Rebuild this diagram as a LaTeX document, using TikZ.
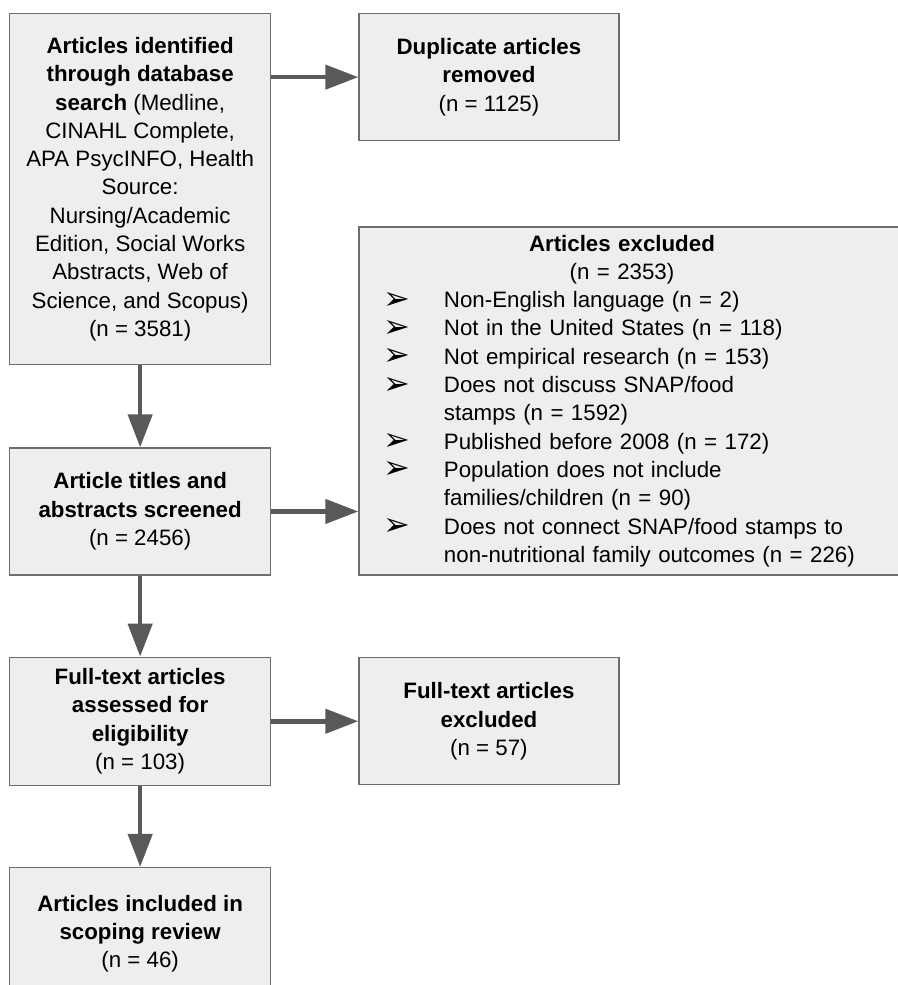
\documentclass[tikz,border=0pt]{standalone}
\usepackage{fontspec}
\setmainfont{Liberation Sans}
\newfontfamily\symfont{DejaVu Sans}
\usetikzlibrary{arrows.meta,positioning}

\definecolor{boxfill}{RGB}{238,238,238}
\definecolor{boxline}{RGB}{110,110,110}
\definecolor{arrowgray}{RGB}{89,89,89}

\newcommand{\exitem}{\makebox[60pt][l]{\raisebox{-1.5pt}{\symfont\fontsize{32}{28.3}\selectfont\char"27A2}}}
\newcommand{\excont}{\hspace*{60pt}}

\begin{document}
\begin{tikzpicture}[->,>={Triangle[length=33pt,width=24pt]},x=1pt,y=1pt,
  every edge/.style={draw=arrowgray,line width=4.5pt},
  box/.style={rectangle,draw=boxline,fill=boxfill,line width=1.3pt,align=center,
    inner sep=0pt,minimum width=261pt,font=\fontsize{22.3}{28.3}\selectfont}]

\useasboundingbox (0,0) rectangle (897,-985);

\node[box, anchor=north west, minimum height=351pt] (A) at (9,-13)
  {\textbf{Articles identified}\\ \textbf{through database}\\ \textbf{search} (Medline,\\
   CINAHL Complete,\\ APA PsycINFO, Health\\ Source:\\ Nursing/Academic\\
   Edition, Social Works\\ Abstracts, Web of\\ Science, and Scopus)\\ (n = 3581)};
\node[box, minimum width=260pt, minimum height=127pt] (D) [right=87pt of A.north east, anchor=north west]
  {\textbf{Duplicate articles}\\ \textbf{removed}\\ (n = 1125)};
\node[box, align=left, text width=526pt, inner xsep=25pt, minimum height=348pt] (E) [below=85pt of D.south west, anchor=north west]
  {\makebox[476pt]{\textbf{Articles excluded}}\\
   \makebox[476pt]{(n = 2353)}\\
   \exitem Non-English language (n = 2)\\
   \exitem Not in the United States (n = 118)\\
   \exitem Not empirical research (n = 153)\\
   \exitem Does not discuss SNAP/food\\
   \excont stamps (n = 1592)\\
   \exitem Published before 2008 (n = 172)\\
   \exitem Population does not include\\
   \excont families/children (n = 90)\\
   \exitem Does not connect SNAP/food stamps to\\
   \excont non-nutritional family outcomes (n = 226)};

\node[box, minimum height=127pt] (S) [below=82pt of A]
  {\textbf{Article titles and}\\ \textbf{abstracts screened}\\ (n = 2456)};
\node[box, minimum height=128pt] (F) [below=81pt of S]
  {\textbf{Full-text articles}\\ \textbf{assessed for}\\ \textbf{eligibility}\\ (n = 103)};
\node[box, minimum width=260pt, minimum height=127pt] (FE) [right=87pt of F]
  {\textbf{Full-text articles}\\ \textbf{excluded}\\ (n = 57)};
\node[box, minimum height=132pt] (I) [below=81pt of F]
  {\textbf{Articles included in}\\ \textbf{scoping review}\\ (n = 46)};

\path
  (A.east |- D.west) edge (D.west)
  (A.south) edge (S.north)
  (S.east) edge (S.east -| E.west)
  (S.south) edge (F.north)
  (F.east) edge (FE.west)
  (F.south) edge (I.north);
\end{tikzpicture}
\end{document}
